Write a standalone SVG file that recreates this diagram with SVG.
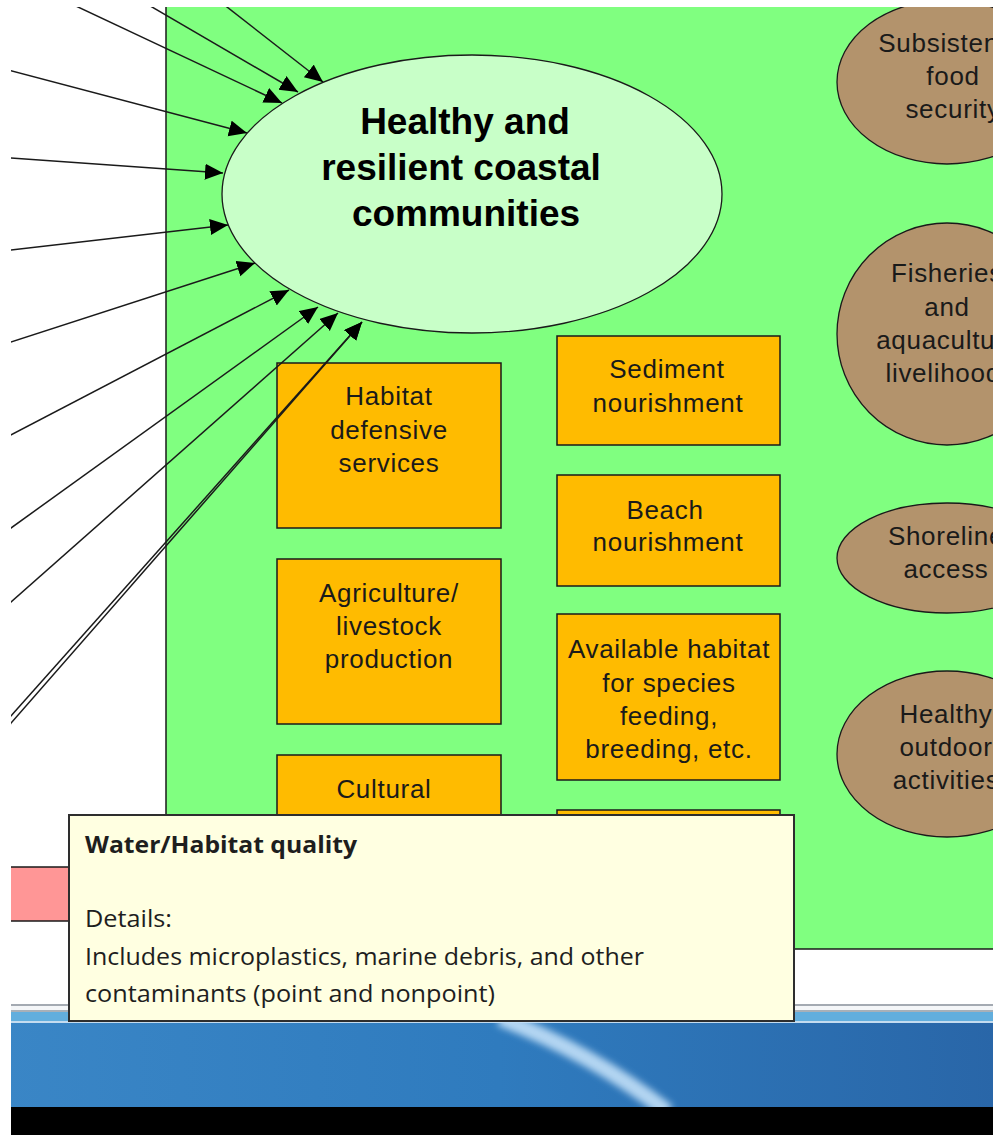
<svg xmlns="http://www.w3.org/2000/svg" width="997" height="1135" viewBox="0 0 997 1135">
<defs>
<style>
.box{fill:#FFBB00;stroke:#1a1a1a;stroke-width:1.5}
.out{fill:#B3936C;stroke:#1a1a1a;stroke-width:1.3}
.t{font-family:"Liberation Sans",Arial,sans-serif;font-size:26px;fill:#1a1a1a;text-anchor:middle;letter-spacing:0.7px}
.title{font-family:"Liberation Sans",Arial,sans-serif;font-size:37px;font-weight:bold;fill:#000;text-anchor:middle}
.conn line{stroke:#1a1a1a;stroke-width:1.5;marker-end:url(#ah)}
.tip{font-family:"Open Sans","Noto Sans",sans-serif;font-size:24px;fill:#1e1e1e}
</style>
<marker id="ah" markerUnits="userSpaceOnUse" markerWidth="20" markerHeight="18" refX="18" refY="8" orient="auto">
<path d="M0,0 L18,8 L0,16 z" fill="#000"/>
</marker>
<clipPath id="screen"><rect x="11" y="7" width="982" height="1128"/></clipPath>
<linearGradient id="tb" x1="0" y1="0" x2="1" y2="0">
<stop offset="0" stop-color="#3A86C6"/>
<stop offset="0.5" stop-color="#2F7BBE"/>
<stop offset="1" stop-color="#2966A8"/>
</linearGradient>
<filter id="blur" x="-50%" y="-50%" width="200%" height="200%"><feGaussianBlur stdDeviation="3.5"/></filter>
</defs>
<rect x="0" y="0" width="997" height="1135" fill="#ffffff"/>
<g clip-path="url(#screen)">
<g id="panel">
<rect x="166" y="-5" width="850" height="954" fill="#80FF80" stroke="#1a1a1a" stroke-width="1.5"/>
</g>
<g id="outcomes">
<g id="n-subsistence">
<ellipse class="out" cx="947" cy="82" rx="110" ry="82"/>
<text class="t" x="953" y="52">Subsistence</text>
<text class="t" x="953" y="85">food</text>
<text class="t" x="953" y="118">security</text>
</g>
<g id="n-fisheries">
<ellipse class="out" cx="947" cy="334" rx="110" ry="111"/>
<text class="t" x="947" y="282">Fisheries</text>
<text class="t" x="947" y="316">and</text>
<text class="t" x="948" y="349">aquaculture</text>
<text class="t" x="950" y="382">livelihoods</text>
</g>
<g id="n-shoreline">
<ellipse class="out" cx="947" cy="558" rx="110" ry="55"/>
<text class="t" x="946" y="545">Shoreline</text>
<text class="t" x="946" y="578">access</text>
</g>
<g id="n-outdoor">
<ellipse class="out" cx="947" cy="754" rx="110" ry="83"/>
<text class="t" x="946" y="723">Healthy</text>
<text class="t" x="946" y="756">outdoor</text>
<text class="t" x="946" y="789">activities</text>
</g>
</g>
<g id="n-healthy">
<ellipse cx="472" cy="194" rx="250" ry="139" fill="#C8FFC8" stroke="#1a1a1a" stroke-width="1.3"/>
<text class="title" x="465" y="134">Healthy and</text>
<text class="title" x="461" y="180">resilient coastal</text>
<text class="title" x="466" y="226">communities</text>
</g>
<g id="n-habitat-def">
<rect class="box" x="277" y="363" width="224" height="165"/>
<text class="t" x="389" y="405">Habitat</text>
<text class="t" x="389" y="439">defensive</text>
<text class="t" x="389" y="472">services</text>
</g>
<g id="n-agri">
<rect class="box" x="277" y="559" width="224" height="165"/>
<text class="t" x="389" y="602">Agriculture/</text>
<text class="t" x="389" y="635">livestock</text>
<text class="t" x="389" y="668">production</text>
</g>
<g id="n-cultural">
<rect class="box" x="277" y="755" width="224" height="165"/>
<text class="t" x="384" y="798">Cultural</text>
</g>
<g id="n-sediment">
<rect class="box" x="557" y="336" width="223" height="109"/>
<text class="t" x="667" y="378">Sediment</text>
<text class="t" x="668" y="412">nourishment</text>
</g>
<g id="n-beach">
<rect class="box" x="557" y="475" width="223" height="111"/>
<text class="t" x="665" y="519">Beach</text>
<text class="t" x="668" y="551">nourishment</text>
</g>
<g id="n-available">
<rect class="box" x="557" y="614" width="223" height="166"/>
<text class="t" x="669" y="658">Available habitat</text>
<text class="t" x="669" y="692">for species</text>
<text class="t" x="669" y="725">feeding,</text>
<text class="t" x="669" y="758">breeding, etc.</text>
</g>
<g id="n-box4">
<rect class="box" x="557" y="810" width="223" height="120"/>
</g>
<g id="connectors" class="conn">
<line x1="207.8" y1="-8" x2="323" y2="82"/>
<line x1="130.1" y1="-5.75" x2="298" y2="92"/>
<line x1="57.6" y1="-2.6" x2="282" y2="103"/>
<line x1="0" y1="67.8" x2="247" y2="133"/>
<line x1="0" y1="157.2" x2="223" y2="173"/>
<line x1="0" y1="251.3" x2="228" y2="225"/>
<line x1="0" y1="345.6" x2="255" y2="263"/>
<line x1="0" y1="440.7" x2="289" y2="290"/>
<line x1="0" y1="535.9" x2="318" y2="307"/>
<line x1="0" y1="611.7" x2="338" y2="313"/>
<line x1="0" y1="728.3" x2="362" y2="322"/>
<line x1="0" y1="735.6" x2="362" y2="322"/>
</g>
<g id="n-pink">
<rect x="0" y="867" width="120" height="54" fill="#FF9696" stroke="#1a1a1a" stroke-width="1.5"/>
</g>
<g id="taskbar">
<rect x="0" y="1004" width="997" height="2" fill="#A4AAB2"/>
<rect x="0" y="1006" width="997" height="4" fill="#F4F6F8"/>
<rect x="0" y="1010" width="997" height="2" fill="#A8B0B8"/>
<rect x="0" y="1012" width="997" height="9" fill="#62AEDD"/>
<rect x="0" y="1021" width="997" height="2" fill="#C4DCF0"/>
<rect x="0" y="1023" width="997" height="84" fill="url(#tb)"/>
<path d="M500,1018 Q590,1052 668,1112" fill="none" stroke="#C2E0F8" stroke-width="16" opacity="0.9" filter="url(#blur)"/>
<rect x="0" y="1107" width="997" height="28" fill="#000"/>
</g>
<g id="tooltip">
<rect x="69" y="815" width="725" height="206" fill="#FFFFE1" stroke="#2e2e2e" stroke-width="2"/>
<text class="tip" x="85" y="853" font-weight="bold" textLength="272" lengthAdjust="spacingAndGlyphs">Water/Habitat quality</text>
<text class="tip" x="85" y="927" textLength="87" lengthAdjust="spacingAndGlyphs">Details:</text>
<text class="tip" x="85" y="965" textLength="559" lengthAdjust="spacingAndGlyphs">Includes microplastics, marine debris, and other</text>
<text class="tip" x="85" y="1002" textLength="410" lengthAdjust="spacingAndGlyphs">contaminants (point and nonpoint)</text>
</g>
</g>
</svg>
